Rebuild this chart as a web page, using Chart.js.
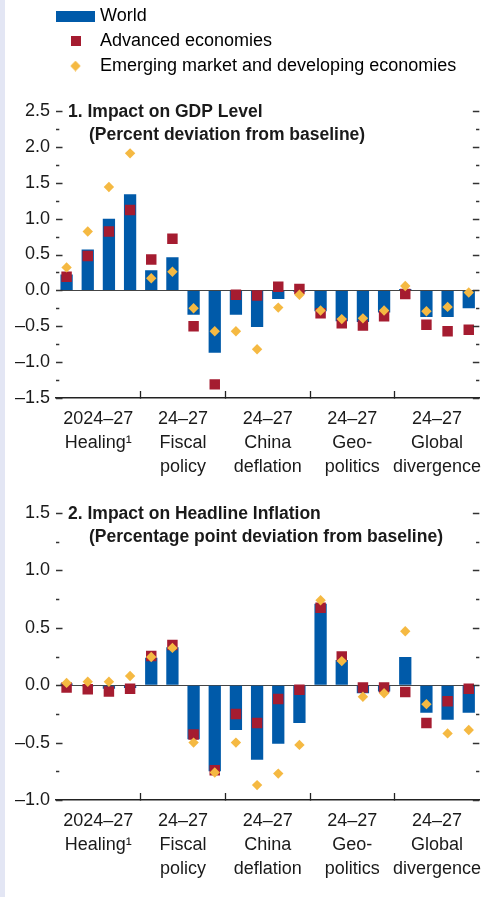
<!DOCTYPE html>
<html>
<head>
<meta charset="utf-8">
<script src="https://cdn.jsdelivr.net/npm/chart.js@4.4.1/dist/chart.umd.min.js"></script>
<style>
  html, body { margin: 0; padding: 0; background: #fff; }
  body { width: 499px; height: 897px; position: relative; overflow: hidden; }
  .strip { position: absolute; left: 0; top: 0; width: 5px; height: 897px; background: #e3e6f4; }
  canvas { position: absolute; left: 0; }
  #legendChart { top: 0; }
  #gdpChart { top: 90px; }
  #inflChart { top: 490px; }
</style>
</head>
<body>
<div class="strip"></div>
<canvas id="gdpChart" width="499" height="398"></canvas>
<canvas id="inflChart" width="499" height="400"></canvas>
<canvas id="legendChart" width="499" height="110"></canvas>
<script>
// Categories: 5 scenarios x 4 years (2024-27)
const scenarios = ['Healing', 'Fiscal policy', 'China deflation', 'Geopolitics', 'Global divergence'];
const years = ['2024', '2025', '2026', '2027'];
const groupLabels = [
    ['2024–27', 'Healing¹'],
    ['24–27', 'Fiscal', 'policy'],
    ['24–27', 'China', 'deflation'],
    ['24–27', 'Geo-', 'politics'],
    ['24–27', 'Global', 'divergence']
];
const seriesNames = ['World', 'Advanced economies', 'Emerging market and developing economies'];

// Panel 1: GDP level, percent deviation from baseline
const gdpWorld    = [0.22, 0.57, 1.00, 1.34,  0.28, 0.46, -0.34, -0.87,  -0.34, -0.51, -0.12, -0.02,  -0.29, -0.43, -0.44, -0.31,  0.02, -0.37, -0.37, -0.25];
const gdpAdvanced = [0.19, 0.48, 0.82, 1.12,  0.43, 0.72, -0.50, -1.31,  -0.06, -0.07,  0.05,  0.02,  -0.32, -0.46, -0.49, -0.36,  -0.05, -0.48, -0.57, -0.55];
const gdpEmerging = [0.32, 0.82, 1.44, 1.91,  0.17, 0.26, -0.25, -0.57,  -0.57, -0.82, -0.24, -0.06,  -0.28, -0.40, -0.39, -0.28,  0.06, -0.29, -0.23, -0.03];

// Panel 2: headline inflation, percentage point deviation from baseline
const inflWorld    = [0.015, -0.01, -0.03, -0.025,  0.24, 0.33, -0.47, -0.75,  -0.39, -0.65, -0.51, -0.33,  0.71, 0.22, -0.07, -0.055,  0.245, -0.24, -0.30, -0.24];
const inflAdvanced = [-0.02, -0.035, -0.055, -0.03,  0.255, 0.35, -0.43, -0.74,  -0.25, -0.33, -0.12, -0.04,  0.675, 0.25, -0.02, -0.02,  -0.06, -0.33, -0.14, -0.03];
const inflEmerging = [0.02, 0.03, 0.03, 0.08,  0.245, 0.325, -0.50, -0.76,  -0.50, -0.87, -0.77, -0.52,  0.74, 0.21, -0.10, -0.07,  0.47, -0.165, -0.42, -0.39];

const gdpTicks = { min: -1.5, max: 2.5, step: 0.5 };
const inflTicks = { min: -1.0, max: 1.5, step: 0.5 };

const BLUE = '#005aa9';
const RED = '#a51c30';
const GOLD = '#f5b942';
const INK = '#1a1a1a';

Chart.defaults.font.family = '"Liberation Sans", Arial, sans-serif';
Chart.defaults.font.size = 18;
Chart.defaults.color = INK;

const barLabels = [];
scenarios.forEach(s => years.forEach(y => barLabels.push(s + ' ' + y)));

const fmt = v => (v < 0 ? '–' : '') + Math.abs(v).toFixed(1);

// small tick marks on both edges of the plot, pointing inward
const edgeTicks = {
    id: 'edgeTicks',
    afterDraw(chart) {
        const { ctx, chartArea: { left, right }, scales: { y } } = chart;
        const step = y.options.ticks.stepSize;
        ctx.save();
        ctx.strokeStyle = '#333';
        ctx.lineWidth = 1.3;
        for (let v = y.min; v <= y.max + 1e-9; v += step / 2) {
            const r = v / step;
            const major = Math.abs(r - Math.round(r)) < 1e-6;
            const len = major ? 6.5 : 3.3;
            const py = Math.round(y.getPixelForValue(v)) + 0.5;
            ctx.beginPath();
            ctx.moveTo(left, py); ctx.lineTo(left + len, py);
            ctx.moveTo(right - len, py); ctx.lineTo(right, py);
            ctx.stroke();
        }
        ctx.restore();
    }
};

// panel heading drawn inside the plot
const panelTitle = {
    id: 'panelTitle',
    afterDraw(chart, args, opts) {
        const { ctx, chartArea: { left, top } } = chart;
        ctx.save();
        ctx.font = 'bold 17.5px "Liberation Sans", Arial, sans-serif';
        ctx.fillStyle = INK;
        ctx.textBaseline = 'middle';
        ctx.fillText(opts.lines[0], left + 12, top + 1);
        ctx.fillText(opts.lines[1], left + 33, top + 24);
        ctx.restore();
    }
};

function makePanel(id, world, adv, emg, range, title, topPad) {
    return new Chart(document.getElementById(id), {
        type: 'bar',
        data: {
            labels: barLabels,
            datasets: [
                {
                    type: 'line', label: seriesNames[2], data: emg, showLine: false,
                    pointStyle: 'rectRot', pointRadius: 5.2, pointBorderWidth: 0,
                    pointBackgroundColor: GOLD, order: 1
                },
                {
                    type: 'line', label: seriesNames[1], data: adv, showLine: false,
                    pointStyle: 'rect', pointRadius: 7.4, pointBorderWidth: 0,
                    pointBackgroundColor: RED, order: 2
                },
                {
                    type: 'bar', label: seriesNames[0], data: world,
                    backgroundColor: BLUE, borderWidth: 0,
                    barPercentage: 0.58, categoryPercentage: 1.0, order: 3
                }
            ]
        },
        options: {
            responsive: false,
            animation: false,
            events: [],
            layout: { padding: { top: topPad, right: 5, bottom: 0, left: 0 } },
            scales: {
                x: { display: false, offset: true },
                xg: {
                    type: 'category',
                    labels: groupLabels,
                    position: 'bottom',
                    offset: true,
                    grid: {
                        offset: true,
                        drawOnChartArea: false,
                        tickLength: -7,
                        tickWidth: 1.3,
                        tickColor: c => (c.index === undefined || c.index === 0) ? 'rgba(0,0,0,0)' : '#222'
                    },
                    border: { display: true, color: '#222', width: 1.6 },
                    ticks: {
                        maxRotation: 0, autoSkip: false, padding: 16,
                        font: { size: 18, lineHeight: 1.33 }, color: INK
                    },
                    afterFit: s => { s.height = 90; }
                },
                y: {
                    min: range.min, max: range.max,
                    grid: {
                        drawTicks: false,
                        color: c => c.tick && c.tick.value === 0 ? '#444' : 'rgba(0,0,0,0)',
                        lineWidth: 1
                    },
                    border: { display: false },
                    ticks: { stepSize: range.step, padding: 6, callback: v => fmt(v), color: INK },
                    afterFit: s => { s.width = 56; }
                }
            },
            plugins: {
                legend: { display: false },
                tooltip: { enabled: false },
                panelTitle: { lines: title }
            }
        },
        plugins: [edgeTicks, panelTitle]
    });
}

makePanel('gdpChart', gdpWorld, gdpAdvanced, gdpEmerging, gdpTicks,
    ['1. Impact on GDP Level', '(Percent deviation from baseline)'], 21);
makePanel('inflChart', inflWorld, inflAdvanced, inflEmerging, inflTicks,
    ['2. Impact on Headline Inflation', '(Percentage point deviation from baseline)'], 23);

// Legend icons
function icon(w, h, draw) {
    const c = document.createElement('canvas');
    c.width = w; c.height = h;
    draw(c.getContext('2d'));
    return c;
}
const legendIcons = [
    icon(39, 11, g => { g.fillStyle = BLUE; g.fillRect(0, 0, 39, 11); }),
    icon(10, 10, g => { g.fillStyle = RED; g.fillRect(0, 0, 10, 10); }),
    icon(11, 11, g => {
        g.fillStyle = GOLD; g.beginPath();
        g.moveTo(5.5, 0.3); g.lineTo(10.7, 5.5); g.lineTo(5.5, 10.7); g.lineTo(0.3, 5.5);
        g.closePath(); g.fill();
    })
];

new Chart(document.getElementById('legendChart'), {
    type: 'bar',
    data: {
        labels: [],
        datasets: seriesNames.map(n => ({ label: n, data: [] }))
    },
    options: {
        responsive: false,
        animation: false,
        events: [],
        layout: { padding: { top: 12, left: 53, right: 0, bottom: 0 } },
        scales: { x: { display: false }, y: { display: false } },
        plugins: {
            tooltip: { enabled: false },
            legend: {
                position: 'chartArea',
                align: 'start',
                labels: {
                    usePointStyle: true,
                    pointStyleWidth: 31,
                    padding: 7,
                    color: INK,
                    font: { size: 18, lineHeight: 1.2 },
                    generateLabels: () => seriesNames.map((n, i) => ({
                        text: n, pointStyle: legendIcons[i], fillStyle: 'rgba(0,0,0,0)',
                        strokeStyle: 'rgba(0,0,0,0)', lineWidth: 0, hidden: false, datasetIndex: i
                    }))
                }
            }
        }
    }
});
</script>
</body>
</html>
